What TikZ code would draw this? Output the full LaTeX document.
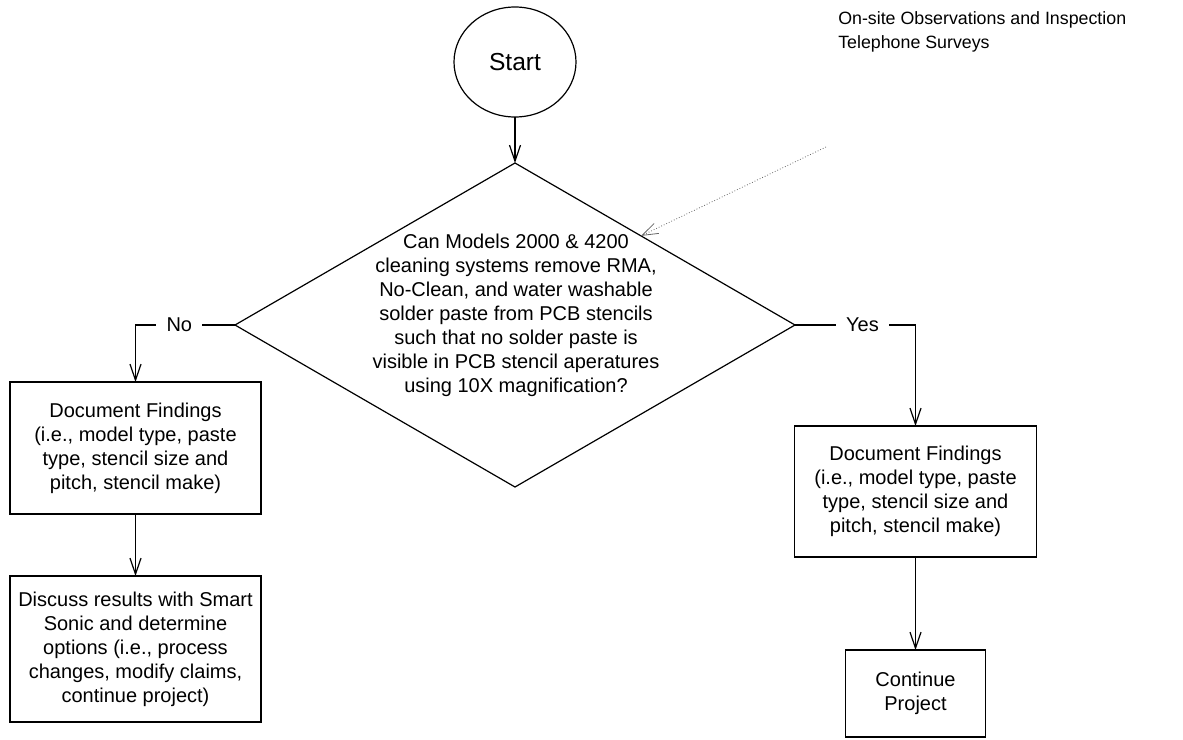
\documentclass[tikz,border=0pt]{standalone}
\usepackage{fontspec}
\setmainfont{Liberation Sans}
\usetikzlibrary{shapes.geometric,arrows.meta,calc}

\begin{document}
\begin{tikzpicture}[x=0.5pt,y=-0.5pt,line width=0.6pt,
	pfeil/.style={-{Straight Barb[length=8pt,width=5.5pt]}},
	kasten/.style={draw,rectangle,inner sep=0pt,outer sep=0pt,align=center,font=\fontsize{10}{12}\selectfont},
	marke/.style={fill=white,inner xsep=5pt,font=\fontsize{10}{12}\selectfont},
	hinweis/.style={black!60,densely dotted,line width=0.4pt,-{Straight Barb[length=8pt,width=5.5pt]}}]
	\useasboundingbox (0,0) rectangle (1183,739);
	\node[draw,ellipse,minimum width=61pt,minimum height=55pt,inner sep=0pt,outer sep=0pt,font=\fontsize{12.3}{14}\selectfont] (start) at (515,62) {Start};%Startellipse
	\node[draw,diamond,minimum width=280pt,minimum height=162pt,inner sep=0pt,outer sep=0pt] (raute) at (515,325) {};%Raute
	\node[align=center,font=\fontsize{10}{12}\selectfont] (frage) at (516,315) {Can Models 2000 \& 4200\\cleaning systems remove RMA,\\No-Clean, and water washable\\solder paste from PCB stencils\\such that no solder paste is\\visible in PCB stencil aperatures\\using 10X magnification?};%Fragetext
	\node[anchor=west,align=left,font=\fontsize{8.9}{12}\selectfont] (quellen) at (831,32) {On-site Observations and Inspection\\Telephone Surveys};%Hinweis oben rechts
	\node[kasten,minimum width=125.5pt,minimum height=66pt] (befund1) at (135.5,448) {Document Findings\\(i.e., model type, paste\\type, stencil size and\\pitch, stencil make)};%linker Kasten oben
	\node[kasten,minimum width=125.5pt,minimum height=73pt] (diskussion) at (135.5,649) {Discuss results with Smart\\Sonic and determine\\options (i.e., process\\changes, modify claims,\\continue project)};%linker Kasten unten
	\node[kasten,minimum width=121pt,minimum height=65.5pt] (befund2) at (915.5,491.5) {Document Findings\\(i.e., model type, paste\\type, stencil size and\\pitch, stencil make)};%rechter Kasten oben
	\node[kasten,minimum width=70pt,minimum height=43.5pt] (weiter) at (915.5,693.5) {Continue\\Project};%rechter Kasten unten
	\coordinate (quelle) at (826,147);%Anfang Hinweispfeil

	\draw[pfeil] (start.south) -- (raute.north);%Start zur Raute
	\draw[pfeil] (raute.west) -| node[marke,pos=0.28] {No} (befund1.north);%Zweig Nein
	\draw[pfeil] (raute.east) -| node[marke,pos=0.28] {Yes} (befund2.north);%Zweig Ja
	\draw[pfeil] (befund1.south) -- (diskussion.north);%links nach unten
	\draw[pfeil] (befund2.south) -- (weiter.north);%rechts nach unten
	\draw[hinweis] (quelle) -- ($(raute.north)!0.45!(raute.east)$);%Hinweispfeil

\end{tikzpicture}
\end{document}
